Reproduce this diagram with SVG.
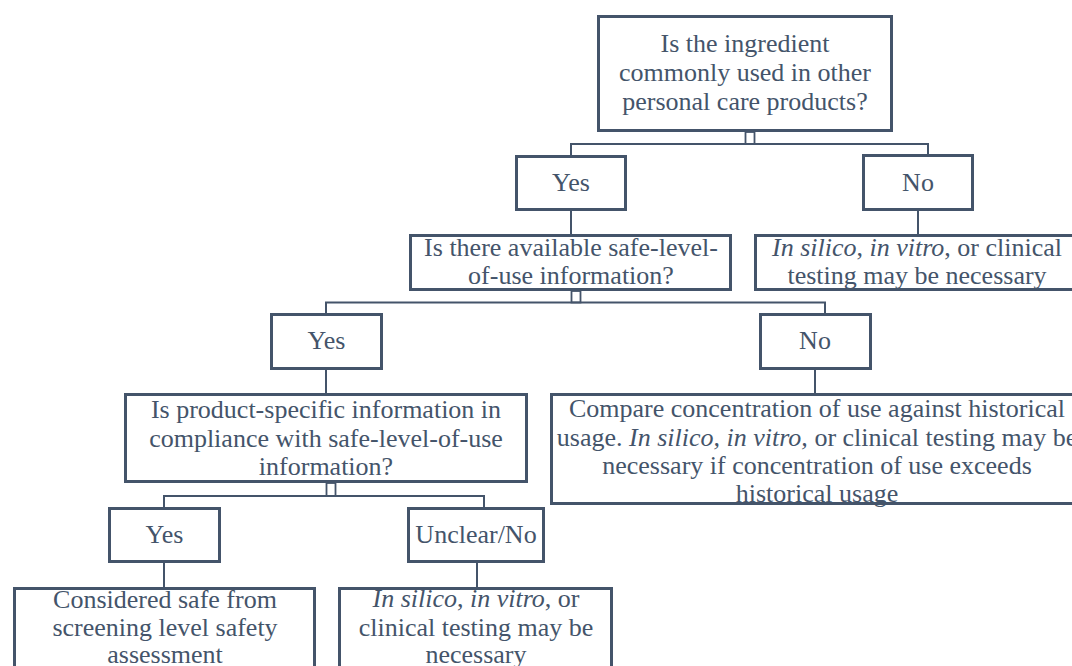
<svg xmlns="http://www.w3.org/2000/svg" width="1072" height="666" viewBox="0 0 1072 666">
<style>
.box{fill:#ffffff;stroke:#44546A;stroke-width:3}
.t{font-family:"Liberation Serif","Times New Roman",serif;font-size:26px;fill:#44546A;text-anchor:middle}
.i{font-style:italic}
.c{fill:none;stroke:#44546A;stroke-width:2}
.d{fill:#ffffff;stroke:#44546A;stroke-width:1.8}
</style>
<rect width="1072" height="666" fill="#ffffff"/>
<g id="connectors">
<rect class="d" x="745.5" y="132" width="9" height="12"/>
<path class="c" d="M571,155 V144 H928 V155"/>
<path class="c" d="M571,211 V234"/>
<path class="c" d="M918,211 V234"/>
<rect class="d" x="571.5" y="291" width="9" height="11.5"/>
<path class="c" d="M326,313 V302.5 H825 V313"/>
<path class="c" d="M326,370 V393"/>
<path class="c" d="M815,370 V393"/>
<rect class="d" x="326.5" y="483" width="9" height="13"/>
<path class="c" d="M164,507 V496 H484 V507"/>
<path class="c" d="M164,563 V587"/>
<path class="c" d="M477,563 V587"/>
</g>
<g id="q1">
<rect class="box" x="598.5" y="16.5" width="293" height="114"/>
<text class="t" x="745" y="52">Is the ingredient</text>
<text class="t" x="745" y="81">commonly used in other</text>
<text class="t" x="745" y="110">personal care products?</text>
</g>
<g id="yes1">
<rect class="box" x="516.5" y="156.5" width="109" height="53"/>
<text class="t" x="571" y="191">Yes</text>
</g>
<g id="no1">
<rect class="box" x="863.5" y="155.5" width="109" height="54"/>
<text class="t" x="918" y="191">No</text>
</g>
<g id="q2">
<rect class="box" x="410.5" y="235.5" width="320" height="54"/>
<text class="t" x="571" y="256">Is there available safe-level-</text>
<text class="t" x="571" y="284">of-use information?</text>
</g>
<g id="testing1">
<rect class="box" x="755.5" y="235.5" width="330" height="54"/>
<text class="t" x="917" y="256"><tspan class="i">In silico</tspan>, <tspan class="i">in vitro</tspan>, or clinical</text>
<text class="t" x="917" y="284">testing may be necessary</text>
</g>
<g id="yes2">
<rect class="box" x="271.5" y="314.5" width="110" height="54"/>
<text class="t" x="326.5" y="349">Yes</text>
</g>
<g id="no2">
<rect class="box" x="760.5" y="314.5" width="110" height="54"/>
<text class="t" x="815" y="349">No</text>
</g>
<g id="q3">
<rect class="box" x="125.5" y="394.5" width="401" height="87"/>
<text class="t" x="326" y="418">Is product-specific information in</text>
<text class="t" x="326" y="447">compliance with safe-level-of-use</text>
<text class="t" x="326" y="475">information?</text>
</g>
<g id="compare">
<rect class="box" x="551.5" y="394.5" width="540" height="109"/>
<text class="t" x="817" y="417">Compare concentration of use against historical</text>
<text class="t" x="817" y="445.5">usage. <tspan class="i">In silico, in vitro,</tspan> or clinical testing may be</text>
<text class="t" x="817" y="474">necessary if concentration of use exceeds</text>
<text class="t" x="817" y="502">historical usage</text>
</g>
<g id="yes3">
<rect class="box" x="109.5" y="508.5" width="110" height="53"/>
<text class="t" x="164.5" y="543">Yes</text>
</g>
<g id="unclear">
<rect class="box" x="408.5" y="508.5" width="135" height="53"/>
<text class="t" x="476" y="543">Unclear/No</text>
</g>
<g id="safe">
<rect class="box" x="14.5" y="588.5" width="300" height="100"/>
<text class="t" x="165" y="608">Considered safe from</text>
<text class="t" x="165" y="636">screening level safety</text>
<text class="t" x="165" y="663">assessment</text>
</g>
<g id="testing2">
<rect class="box" x="339.5" y="588.5" width="272" height="100"/>
<text class="t" x="476" y="607"><tspan class="i">In silico</tspan>, <tspan class="i">in vitro</tspan>, or</text>
<text class="t" x="476" y="636">clinical testing may be</text>
<text class="t" x="476" y="663">necessary</text>
</g>
</svg>
